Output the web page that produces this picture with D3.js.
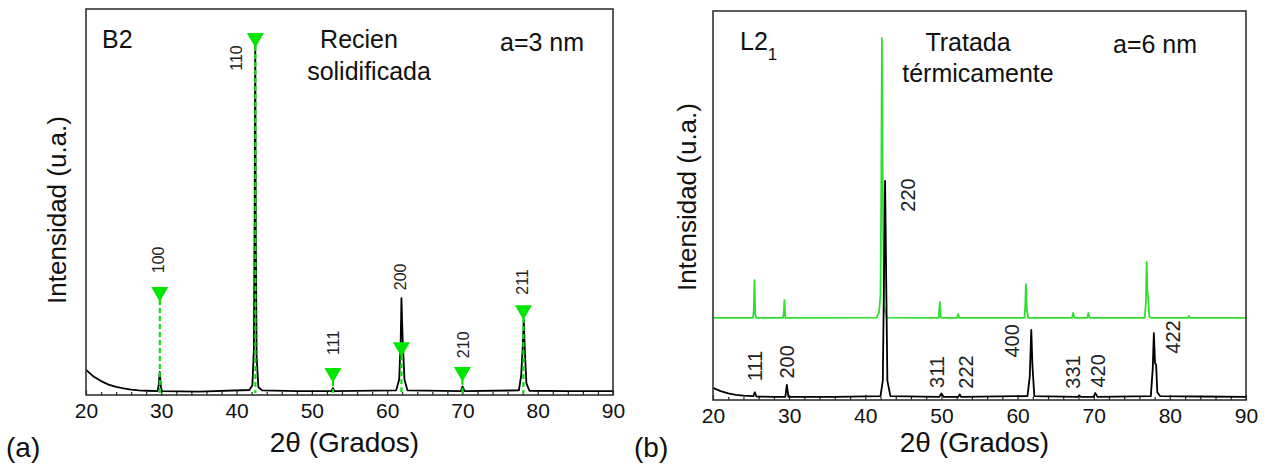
<!DOCTYPE html>
<html><head><meta charset="utf-8">
<script src="https://cdn.jsdelivr.net/npm/d3@7"></script>
<style>
html,body{margin:0;padding:0;background:#fff;}
svg{display:block;font-family:"Liberation Sans",Arial,Helvetica,sans-serif;}
</style></head>
<body><svg id="c" width="1268" height="469"></svg>
<script>
// ---------- data ----------
const xDomain = [20, 90];
const yDomain = [0, 100];
const majorTicks = [20, 30, 40, 50, 60, 70, 80, 90];
const minorTicks = [22,24,26,28,32,34,36,38,42,44,46,48,52,54,56,58,62,64,66,68,72,74,76,78,82,84,86,88];

// (a) as-solidified pattern [2theta, intensity]
const patternA = [[20,6.5],[21,4.8],[22,3.6],[23,2.7],[24,2.1],[25,1.7],[26,1.4],[27,1.2],[28,1.1],[29.5,1.0],[29.65,2.5],[29.8,6.0],[29.95,2.0],[30.1,1.0],
  [35,0.9],[41.7,1.3],[42.1,2.5],[42.3,12],[42.4,45],[42.48,91],[42.56,40],[42.66,10],[42.9,2],[43.4,1.2],[48,1.0],[52.6,1.0],[52.8,1.8],[53.0,1.0],
  [61.2,1.2],[61.6,4],[61.8,14],[61.9,25.1],[62.05,15],[62.3,4],[62.7,1.2],[69.8,1.0],[70.0,2.2],[70.3,1.0],
  [77.5,1.2],[77.8,5],[78.0,12],[78.15,19.4],[78.3,11],[78.5,3],[78.9,1.1],[84,1.0],[90,1.0]];
const hklA = ["100","110","111","200","210","211"];
const markerAngleA = [29.8, 42.5, 52.8, 61.9, 70.0, 78.1];
const markerIntA = [26.7, 92.5, 5.7, 12.4, 6.0, 22.0];
const labelAngleA = [29.6, 39.9, 52.8, 61.7, 70.1, 78.0];
const labelIntA = [35.0, 87.3, 13.5, 30.6, 13.0, 29.3];

// (b) heat-treated pattern (black) and reference pattern (green)
const patternB = [[20,3.1],[21,2.3],[22,1.7],[23,1.3],[24,1.1],[25.3,1.0],[25.5,2.0],[25.7,0.9],[28,0.8],[29.5,0.8],[29.7,3.9],[29.9,0.8],
  [36,0.8],[42.0,1.0],[42.3,5],[42.45,30],[42.6,56.3],[42.75,30],[42.9,5],[43.3,1.0],[49.7,0.8],[50.0,1.7],[50.3,0.8],[52.2,0.8],[52.4,1.4],[52.6,0.8],
  [61.3,1.0],[61.6,6],[61.8,18],[61.95,9],[62.2,1.0],[67.9,0.8],[68.1,1.2],[68.3,0.8],[70.0,0.8],[70.2,1.8],[70.5,0.8],
  [77.5,1.0],[77.75,8],[77.9,17.2],[78.05,9.5],[78.2,9],[78.35,2],[78.7,1.0],[84,0.9],[90,0.8]];
const patternRef = [[20,21.1],[25.25,21.1],[25.35,23],[25.45,30.8],[25.55,22],[25.7,21.1],[29.2,21.1],[29.3,22.5],[29.38,25.7],[29.5,21.1],
  [41.5,21.2],[41.8,22.5],[42.0,27],[42.1,55],[42.18,93],[42.3,55],[42.45,24],[42.8,21.2],[49.65,21.1],[49.78,25.2],[49.9,21.5],[50.05,21.1],
  [52.05,21.1],[52.2,22.1],[52.35,21.1],[60.9,21.1],[61.0,24],[61.1,29.8],[61.22,23],[61.4,21.1],[67.15,21.1],[67.3,22.4],[67.45,21.1],
  [69.15,21.1],[69.3,22.4],[69.45,21.1],[76.7,21.1],[76.85,25],[76.95,35.5],[77.05,28],[77.12,27],[77.3,21.5],[77.5,21.1],
  [82.35,21.1],[82.5,21.6],[82.65,21.1],[90,21.1]];
const hklB = ["220","111","200","311","222","400","331","420","422"];
const labelAngleB = [45.6, 25.5, 29.7, 49.4, 53.2, 59.2, 67.2, 70.5, 80.4];
const labelIntB = [52.7, 8.7, 9.8, 7.2, 7.2, 15.2, 7.2, 7.5, 16.2];

// ---------- drawing ----------
const svg = d3.select("#c");
const FONT = '"Liberation Sans",Arial,Helvetica,sans-serif';
const GREEN = "#00e600";

function panel(o) {
  const x = d3.scaleLinear().domain(xDomain).range([o.left, o.right]);
  const y = d3.scaleLinear().domain(yDomain).range([o.bottom, o.top]);
  const g = svg.append("g");
  const line = d3.line().x(d => x(d[0])).y(d => y(d[1]));

  // minor ticks
  g.append("g").attr("transform", `translate(0,${o.bottom})`)
    .call(d3.axisBottom(x).tickValues(minorTicks).tickSize(-3).tickFormat(""))
    .call(s => s.select(".domain").remove())
    .call(s => s.selectAll("line").attr("stroke", "#222").attr("stroke-width", 1.2));
  // major ticks
  g.append("g").attr("transform", `translate(0,${o.bottom})`)
    .call(d3.axisBottom(x).tickValues(majorTicks).tickSize(-5).tickPadding(0).tickFormat(d3.format("d")))
    .call(s => s.select(".domain").remove())
    .call(s => s.selectAll("line").attr("stroke", "#222").attr("stroke-width", 1.2))
    .call(s => s.selectAll("text").attr("y", 23).attr("dy", 0).attr("fill", "#111")
      .style("font-family", FONT).style("font-size", "21px"));

  o.draw(g, x, y, line);

  // frame
  g.append("rect").attr("x", o.left).attr("y", o.top)
    .attr("width", o.right - o.left).attr("height", o.bottom - o.top)
    .attr("fill", "none").attr("stroke", "#333").attr("stroke-width", 1.6);

  // axis titles
  g.append("text").attr("x", (o.left + o.right) / 2 - 5).attr("y", 452)
    .attr("text-anchor", "middle").style("font-size", "28px").attr("fill", "#111").text("2θ (Grados)");
  g.append("text").attr("transform", `translate(${o.ytx},${o.yty}) rotate(-90)`)
    .attr("text-anchor", "middle").attr("dy", "0.35em").style("font-size", "26px").attr("fill", "#111")
    .text("Intensidad (u.a.)");
  g.append("text").attr("x", o.tagx).attr("y", 457).style("font-size", "28px").attr("fill", "#111").text(o.tag);
  return {x, y, g};
}

function rotLabel(g, x, y, a, v, t, fs) {
  g.append("text").attr("transform", `translate(${x(a)},${y(v)}) rotate(-90)`)
    .attr("text-anchor", "middle").attr("dy", "0.36em")
    .style("font-size", fs + "px").attr("fill", "#222").text(t);
}

// panel (a)
panel({left: 86, right: 613, top: 9, bottom: 395, ytx: 57, yty: 210, tag: "(a)", tagx: 6,
  draw: (g, x, y, line) => {
    g.append("path").datum(patternA).attr("d", line).attr("fill", "none")
      .attr("stroke", "#000").attr("stroke-width", 1.8).attr("stroke-linejoin", "round");
    markerAngleA.forEach((a, i) => {
      g.append("line").attr("x1", x(a)).attr("x2", x(a)).attr("y1", y(markerIntA[i])).attr("y2", y(0) - 2)
        .attr("stroke", GREEN).attr("stroke-width", 2.2).attr("stroke-dasharray", "5,3");
    });
    const tri = d3.symbol().type(d3.symbolTriangle).size(125);
    markerAngleA.forEach((a, i) => {
      g.append("path").attr("d", tri).attr("transform", `translate(${x(a)},${y(markerIntA[i])}) rotate(180)`)
        .attr("fill", GREEN);
    });
    hklA.forEach((t, i) => rotLabel(g, x, y, labelAngleA[i], labelIntA[i], t, 16));
    const txt = (s, xx, yy, anchor) => g.append("text").attr("x", xx).attr("y", yy)
      .attr("text-anchor", anchor || "start").style("font-size", "25px").attr("fill", "#111").text(s);
    txt("B2", 102, 48);
    txt("Recien", 359, 48, "middle");
    txt("solidificada", 369, 80, "middle");
    txt("a=3 nm", 500, 51);
  }});

// panel (b)
panel({left: 713, right: 1246, top: 11, bottom: 400, ytx: 687, yty: 197, tag: "(b)", tagx: 634,
  draw: (g, x, y, line) => {
    g.append("path").datum(patternRef).attr("d", line).attr("fill", "none")
      .attr("stroke", "#2ee02e").attr("stroke-width", 1.8).attr("stroke-linejoin", "round");
    g.append("path").datum(patternB).attr("d", line).attr("fill", "none")
      .attr("stroke", "#000").attr("stroke-width", 1.8).attr("stroke-linejoin", "round");
    hklB.forEach((t, i) => rotLabel(g, x, y, labelAngleB[i], labelIntB[i], t, 20));
    const txt = (s, xx, yy, anchor) => g.append("text").attr("x", xx).attr("y", yy)
      .attr("text-anchor", anchor || "start").style("font-size", "25px").attr("fill", "#111").text(s);
    const l = txt("L2", 740, 50);
    l.append("tspan").attr("dy", 10).style("font-size", "17px").text("1");
    txt("Tratada", 968, 51, "middle");
    txt("térmicamente", 978, 82, "middle");
    txt("a=6 nm", 1113, 53);
  }});
</script></body></html>
